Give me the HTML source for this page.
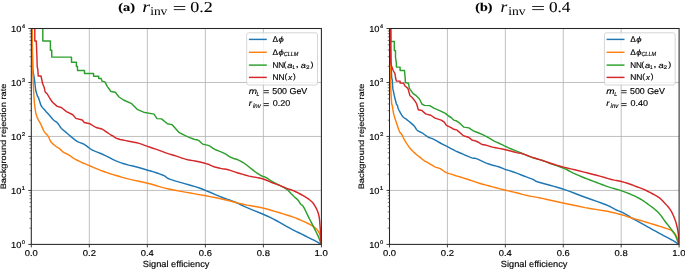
<!DOCTYPE html><html><head><meta charset="utf-8"><style>html,body{margin:0;padding:0;background:#fff;overflow:hidden}svg{display:block;will-change:transform}text{text-rendering:geometricPrecision;stroke:currentColor;stroke-width:0.15px}</style></head><body>
<svg width="685" height="269" viewBox="0 0 685 269">
<rect width="685" height="269" fill="#fff"/>
<defs>
<clipPath id="c0"><rect x="31.3" y="28.5" width="290.1" height="215.9"/></clipPath>
<clipPath id="c1"><rect x="389.5" y="28.5" width="289.6" height="215.9"/></clipPath>
</defs>
<text transform="translate(118.25 11.42) scale(1.198 1)" font-family="Liberation Serif" font-size="11.98" font-weight="bold" fill="#000">(a)</text>
<text transform="translate(142.20 12.00) scale(1.237 1)" font-family="Liberation Serif" font-size="16.17" font-style="italic" fill="#000" style="stroke:none">r</text>
<text transform="translate(150.13 14.58) scale(1.130 1)" font-family="Liberation Serif" font-size="11.94" fill="#000" style="stroke:none">inv</text>
<path d="M173.8 6.5H185.3M173.8 9.6H185.3" stroke="#000" stroke-width="0.85"/>
<text transform="translate(190.18 11.87) scale(1.189 1)" font-family="Liberation Serif" font-size="15.15" fill="#000" style="stroke-width:0.08px">0.2</text>
<text transform="translate(475.37 11.42) scale(1.170 1)" font-family="Liberation Serif" font-size="11.98" font-weight="bold" fill="#000">(b)</text>
<text transform="translate(500.40 12.00) scale(1.078 1)" font-family="Liberation Serif" font-size="16.17" font-style="italic" fill="#000" style="stroke:none">r</text>
<text transform="translate(508.23 14.58) scale(1.137 1)" font-family="Liberation Serif" font-size="11.94" fill="#000" style="stroke:none">inv</text>
<path d="M532.2 6.5H543.9M532.2 9.6H543.9" stroke="#000" stroke-width="0.85"/>
<text transform="translate(548.91 11.87) scale(1.138 1)" font-family="Liberation Serif" font-size="15.15" fill="#000" style="stroke-width:0.08px">0.4</text>
<path d="M89.32 28.5V244.4M147.34 28.5V244.4M205.36 28.5V244.4M263.38 28.5V244.4M31.3 190.43H321.4M31.3 136.45H321.4M31.3 82.47H321.4" stroke="#b0b0b0" stroke-width="0.8" fill="none"/>
<g clip-path="url(#c0)" fill="none" stroke-width="1.45" stroke-linejoin="round" stroke-linecap="butt">
<polyline points="32.2,28.5 32.4,54 32.7,68 33.4,73.5 34.25,77.8 34.8,82.5 35.8,90.8 37.4,96 38.4,97.6 41,105.4 41.93,106.88 42.97,108.16 44.08,109.36 45.2,110.6 46.37,111.92 47.59,113.26 48.79,114.57 49.9,115.8 50.87,116.95 51.74,118.04 52.6,119.06 53.5,120 54.48,120.78 55.49,121.43 56.5,122.12 57.5,123 58.45,124.19 59.39,125.58 60.33,127 61.3,128.25 62.3,129.26 63.31,130.12 64.37,130.97 65.5,131.9 66.7,132.96 67.97,134.07 69.3,135.23 70.7,136.4 72.18,137.64 73.72,138.94 75.33,140.19 77,141.3 78.75,142.15 80.57,142.83 82.42,143.52 84.25,144.4 86.13,145.63 88.05,147.07 89.88,148.48 91.5,149.6 92.72,150.29 93.65,150.69 94.63,151.06 96,151.6 97.88,152.37 100.08,153.24 102.47,154.22 104.9,155.3 107.39,156.55 110,157.95 112.66,159.35 115.3,160.6 117.89,161.66 120.46,162.6 123.07,163.47 125.8,164.3 128.72,165.09 131.79,165.82 134.83,166.53 137.7,167.25 140.36,168 142.9,168.77 145.31,169.51 147.6,170.2 149.69,170.79 151.61,171.32 153.49,171.86 155.5,172.5 157.75,173.27 160.12,174.12 162.44,175.02 164.5,175.9 165.73,176.67 166.41,177.39 167.61,178.24 170.4,179.4 175.78,181.08 182.95,183.14 190.24,185.2 196,186.9 199.39,188.01 201.43,188.76 203.23,189.5 205.9,190.6 209.99,192.28 214.82,194.3 219.66,196.32 223.8,198 226.96,199.17 229.56,200.05 231.88,200.83 234.2,201.7 236.65,202.77 239.05,203.92 241.25,205.01 243.1,205.9 244.15,206.4 244.62,206.64 245.33,206.95 247.1,207.7 250.46,209.07 254.87,210.84 259.54,212.74 263.7,214.5 267.09,216.02 270.14,217.44 273.09,218.9 276.2,220.5 279.56,222.35 283.03,224.35 286.49,226.35 289.8,228.2 292.91,229.82 295.9,231.31 298.84,232.74 301.8,234.2 304.9,235.74 308.08,237.31 311.11,238.83 313.8,240.2 316.19,241.47 318.35,242.67 320.14,243.69 321.4,244.4" stroke="#1f77b4"/>
<polyline points="32.2,28.5 32.4,54 32.7,70 33.4,86 33.53,88.91 33.64,91.35 33.75,93.61 33.9,96 34.08,98.62 34.29,101.3 34.52,103.93 34.8,106.4 35.12,108.7 35.47,110.9 35.87,112.93 36.3,114.75 36.78,116.32 37.31,117.67 37.86,118.88 38.4,120 38.92,120.99 39.45,121.84 39.98,122.66 40.5,123.6 41.02,124.7 41.55,125.89 42.08,127.1 42.6,128.25 43.09,129.33 43.56,130.37 44.07,131.38 44.7,132.4 45.52,133.38 46.47,134.32 47.44,135.31 48.3,136.4 48.96,137.67 49.5,139.06 50.09,140.47 50.9,141.8 52.06,143.09 53.45,144.36 54.87,145.52 56.1,146.5 57.06,147.17 57.88,147.62 58.66,148.03 59.5,148.6 60.41,149.42 61.34,150.37 62.32,151.34 63.4,152.2 64.61,152.9 65.92,153.5 67.27,154.1 68.6,154.8 69.85,155.63 71.07,156.53 72.35,157.47 73.8,158.4 75.45,159.32 77.25,160.25 79.15,161.18 81.1,162.1 83.14,163.02 85.29,163.93 87.44,164.83 89.5,165.7 91.44,166.54 93.31,167.34 95.15,168.13 97,168.9 98.8,169.63 100.54,170.33 102.39,171.04 104.5,171.8 106.87,172.62 109.44,173.47 112.23,174.37 115.3,175.3 118.68,176.29 122.34,177.33 126.2,178.38 130.2,179.4 134.42,180.36 138.87,181.28 143.33,182.21 147.6,183.2 151.67,184.3 155.64,185.47 159.44,186.61 163,187.6 166.03,188.35 168.66,188.94 171.43,189.51 174.9,190.2 179.56,191.09 185.01,192.09 190.43,193.08 195,193.9 198.21,194.46 200.59,194.85 202.9,195.24 205.9,195.8 210.02,196.61 214.79,197.58 219.58,198.58 223.8,199.5 227.21,200.31 230.16,201.07 232.9,201.79 235.7,202.5 238.46,203.17 241.11,203.79 243.9,204.42 247.1,205.1 250.9,205.8 255.12,206.52 259.48,207.31 263.7,208.2 267.78,209.25 271.84,210.43 275.8,211.64 279.6,212.8 283.24,213.9 286.75,214.97 290.09,216.03 293.2,217.1 296.05,218.18 298.67,219.26 301.13,220.33 303.5,221.4 305.83,222.45 308.07,223.5 310.15,224.55 312,225.6 313.6,226.67 314.98,227.74 316.17,228.82 317.2,229.9 318.05,230.96 318.72,232 319.25,233.07 319.7,234.2 320.04,235.42 320.26,236.7 320.43,238.01 320.6,239.3 320.81,240.69 321.01,242.17 321.18,243.48 321.3,244.4" stroke="#ff7f0e"/>
<polyline points="42.8,28.5 42.8,41 50.4,41 50.4,50.2 51.75,50.2 51.75,57.1 71.5,57.1 71.5,62.3 76.4,62.3 76.4,66.5 77.5,66.5 77.5,70.4 84.5,70.4 84.5,73.5 93.6,73.5 93.6,76.3 98.7,76.3 98.7,78.4 101.2,78.4 102,81.1 104.9,81.9 107.2,86.3 110.9,91.5 115.3,92.3 119,97 123.5,100 131.7,103.7 137.7,109.7 143.6,112.2 154,114.1 157,118.6 161.5,118.9 167.4,123.8 171.9,124.6 179.3,132.7 185.3,135.7 187.38,136.59 189.74,137.56 192.06,138.47 194,139.2 195.42,139.6 196.52,139.79 197.48,139.98 198.5,140.4 199.57,141.2 200.61,142.23 201.69,143.27 202.9,144.1 204.29,144.58 205.81,144.85 207.37,145.12 208.9,145.6 210.31,146.37 211.66,147.31 213.11,148.32 214.8,149.3 216.87,150.23 219.21,151.16 221.59,152.11 223.8,153.1 225.78,154.21 227.64,155.39 229.44,156.53 231.2,157.5 232.92,158.19 234.59,158.69 236.24,159.18 237.9,159.8 239.64,160.64 241.43,161.61 243.12,162.59 244.6,163.5 245.76,164.29 246.7,165.02 247.56,165.74 248.5,166.5 249.56,167.34 250.66,168.21 251.76,169.08 252.8,169.9 253.73,170.63 254.58,171.31 255.46,171.98 256.5,172.7 257.78,173.53 259.22,174.42 260.67,175.28 262,176 263.09,176.46 264.06,176.75 265.04,177.06 266.2,177.6 267.56,178.45 269.04,179.49 270.65,180.61 272.4,181.7 274.39,182.76 276.57,183.83 278.76,184.89 280.75,185.9 282.51,186.83 284.13,187.7 285.63,188.57 287,189.5 288.22,190.53 289.3,191.63 290.28,192.71 291.2,193.7 292.04,194.55 292.79,195.31 293.52,196.04 294.3,196.8 295.19,197.58 296.13,198.35 297.06,199.15 297.9,200 298.61,200.95 299.24,201.97 299.85,202.98 300.5,203.9 301.17,204.52 301.84,204.95 302.59,205.58 303.5,206.8 304.62,208.85 305.91,211.49 307.27,214.35 308.6,217.1 309.92,219.72 311.26,222.36 312.57,224.95 313.8,227.4 314.94,229.65 316.01,231.76 317.03,233.82 318,235.9 318.99,238.22 319.96,240.68 320.81,242.87 321.4,244.4" stroke="#2ca02c"/>
<polyline points="34.8,28.5 34.8,41 36.3,41 36.9,56 37.2,66.5 37.9,70.1 38.2,76 41,76 42.6,83.5 44.1,87.2 45.2,91.9 47.3,94 49.4,97.6 52.5,102.25 57.2,106.4 61.3,107.5 66.5,111.6 72.8,114.75 75.9,118.4 82.2,120 84.25,122.5 90,123.8 96,127.5 102,129 104.18,130.3 106.69,132.03 109.08,133.75 110.9,135 111.86,135.56 112.26,135.7 112.53,135.74 113.1,136 113.95,136.58 114.91,137.31 116.13,138.09 117.8,138.8 120.1,139.43 122.89,140.04 125.86,140.62 128.7,141.2 131.4,141.75 134.11,142.26 136.73,142.8 139.2,143.4 141.39,144.08 143.37,144.81 145.37,145.58 147.6,146.4 150.16,147.27 152.93,148.2 155.75,149.15 158.5,150.1 161.2,151.08 163.91,152.09 166.52,153.06 168.9,153.9 170.95,154.54 172.74,155.05 174.49,155.53 176.4,156.1 178.51,156.82 180.71,157.62 182.99,158.41 185.3,159.1 187.78,159.67 190.39,160.17 192.89,160.61 195,161 196.51,161.29 197.6,161.48 198.64,161.69 200,162 201.88,162.46 204.04,163.02 206.21,163.61 208.1,164.2 209.55,164.78 210.74,165.37 211.91,165.95 213.3,166.5 215.02,167.02 216.91,167.51 218.88,167.98 220.8,168.4 222.62,168.73 224.41,168.98 226.24,169.27 228.2,169.7 230.27,170.32 232.42,171.07 234.71,171.88 237.2,172.7 239.94,173.54 242.87,174.42 245.95,175.29 249.1,176.1 252.43,176.79 255.93,177.41 259.36,178.05 262.5,178.8 265.26,179.73 267.77,180.78 270.12,181.83 272.4,182.8 274.65,183.65 276.8,184.44 278.85,185.18 280.75,185.9 282.46,186.6 284.01,187.26 285.49,187.9 287,188.5 288.51,189.01 289.99,189.45 291.54,189.94 293.25,190.6 295.26,191.52 297.49,192.61 299.68,193.73 301.6,194.75 303.14,195.61 304.46,196.39 305.64,197.14 306.8,197.9 307.96,198.68 309.06,199.46 310.08,200.23 311,201 311.76,201.68 312.39,202.3 313,203.02 313.7,204 314.55,205.33 315.49,206.91 316.41,208.61 317.2,210.3 317.83,211.93 318.37,213.56 318.82,215.27 319.2,217.1 319.49,219.1 319.69,221.24 319.84,223.43 320,225.6 320.16,227.71 320.31,229.79 320.45,231.94 320.6,234.2 320.76,236.88 320.94,239.84 321.09,242.53 321.2,244.4" stroke="#d62728"/>
</g>
<rect x="31.3" y="28.5" width="290.1" height="215.9" fill="none" stroke="#262626" stroke-width="1.05"/>
<path d="M31.3 244.4v3M89.32 244.4v3M147.34 244.4v3M205.36 244.4v3M263.38 244.4v3M321.4 244.4v3M31.3 244.4h-3M31.3 190.43h-3M31.3 136.45h-3M31.3 82.47h-3M31.3 28.5h-3" stroke="#262626" stroke-width="0.9" fill="none"/>
<path d="M31.3 228.15h-1.8M31.3 218.65h-1.8M31.3 211.9h-1.8M31.3 206.67h-1.8M31.3 202.4h-1.8M31.3 198.79h-1.8M31.3 195.66h-1.8M31.3 192.89h-1.8M31.3 174.18h-1.8M31.3 164.67h-1.8M31.3 157.93h-1.8M31.3 152.7h-1.8M31.3 148.42h-1.8M31.3 144.81h-1.8M31.3 141.68h-1.8M31.3 138.92h-1.8M31.3 120.2h-1.8M31.3 110.7h-1.8M31.3 103.95h-1.8M31.3 98.72h-1.8M31.3 94.45h-1.8M31.3 90.84h-1.8M31.3 87.71h-1.8M31.3 84.94h-1.8M31.3 66.23h-1.8M31.3 56.72h-1.8M31.3 49.98h-1.8M31.3 44.75h-1.8M31.3 40.47h-1.8M31.3 36.86h-1.8M31.3 33.73h-1.8M31.3 30.97h-1.8" stroke="#262626" stroke-width="0.6" fill="none"/>
<text transform="translate(24.72 256.30) scale(1.100 1)" font-family="Liberation Sans" font-size="8.57" fill="#000">0.0</text>
<text transform="translate(82.74 256.30) scale(1.113 1)" font-family="Liberation Sans" font-size="8.57" fill="#000">0.2</text>
<text transform="translate(140.76 256.30) scale(1.096 1)" font-family="Liberation Sans" font-size="8.57" fill="#000">0.4</text>
<text transform="translate(198.78 256.30) scale(1.104 1)" font-family="Liberation Sans" font-size="8.57" fill="#000">0.6</text>
<text transform="translate(256.80 256.30) scale(1.104 1)" font-family="Liberation Sans" font-size="8.57" fill="#000">0.8</text>
<text transform="translate(314.47 256.30) scale(1.130 1)" font-family="Liberation Sans" font-size="8.57" fill="#000">1.0</text>
<text transform="translate(11.00 247.60) scale(1.067 1)" font-family="Liberation Sans" font-size="8.71" fill="#000">10</text>
<text transform="translate(21.77 244.30) scale(1.104 1)" font-family="Liberation Sans" font-size="5.29" fill="#000">0</text>
<text transform="translate(11.00 193.62) scale(1.067 1)" font-family="Liberation Sans" font-size="8.71" fill="#000">10</text>
<text transform="translate(21.52 190.33) scale(1.200 1)" font-family="Liberation Sans" font-size="5.36" fill="#000">1</text>
<text transform="translate(11.00 139.65) scale(1.067 1)" font-family="Liberation Sans" font-size="8.71" fill="#000">10</text>
<text transform="translate(21.69 136.35) scale(1.164 1)" font-family="Liberation Sans" font-size="5.29" fill="#000">2</text>
<text transform="translate(11.00 85.67) scale(1.067 1)" font-family="Liberation Sans" font-size="8.71" fill="#000">10</text>
<text transform="translate(21.76 82.38) scale(1.115 1)" font-family="Liberation Sans" font-size="5.29" fill="#000">3</text>
<text transform="translate(11.00 31.70) scale(1.067 1)" font-family="Liberation Sans" font-size="8.71" fill="#000">10</text>
<text transform="translate(21.89 28.40) scale(1.034 1)" font-family="Liberation Sans" font-size="5.36" fill="#000">4</text>
<text transform="translate(142.83 267.40) scale(1.031 1)" font-family="Liberation Sans" font-size="8.97" fill="#000">Signal efficiency</text>
<text transform="translate(5.90 189.34) rotate(-90) scale(1.182 1)" font-family="Liberation Sans" font-size="7.86" fill="#000">Background rejection rate</text>
<rect x="246.7" y="32.8" width="70.8" height="52.2" rx="2" ry="2" fill="#fff" fill-opacity="0.8" stroke="#cccccc" stroke-width="0.8"/>
<path d="M248.9 39.4H266.8" stroke="#1f77b4" stroke-width="1.45"/>
<path d="M248.9 52.3H266.8" stroke="#ff7f0e" stroke-width="1.45"/>
<path d="M248.9 65.1H266.8" stroke="#2ca02c" stroke-width="1.45"/>
<path d="M248.9 77.4H266.8" stroke="#d62728" stroke-width="1.45"/>
<text transform="translate(272.55 42.00) scale(1.012 1)" font-family="Liberation Sans" font-size="8.26" fill="#000">Δ</text>
<text transform="translate(278.52 42.13) scale(1.268 1)" font-family="Liberation Sans" font-size="7.49" font-style="italic" fill="#000">ϕ</text>
<text transform="translate(272.55 54.90) scale(1.030 1)" font-family="Liberation Sans" font-size="8.12" fill="#000">Δ</text>
<text transform="translate(278.52 55.13) scale(1.268 1)" font-family="Liberation Sans" font-size="7.49" font-style="italic" fill="#000">ϕ</text>
<text transform="translate(283.70 56.24) scale(0.931 1)" font-family="Liberation Sans" font-size="5.92" font-style="italic" fill="#000">CLLM</text>
<text transform="translate(272.45 67.70) scale(0.984 1)" font-family="Liberation Sans" font-size="8.26" fill="#000">NN</text>
<text transform="translate(283.58 67.01) scale(1.143 1)" font-family="Liberation Sans" font-size="7.59" fill="#000">(</text>
<text transform="translate(287.22 67.70) scale(1.155 1)" font-family="Liberation Sans" font-size="7.96" font-style="italic" fill="#000">a</text>
<text transform="translate(292.36 69.20) scale(0.881 1)" font-family="Liberation Sans" font-size="5.22" fill="#000">1</text>
<text transform="translate(295.52 67.38) scale(1.282 1)" font-family="Liberation Sans" font-size="9.36" fill="#000">,</text>
<text transform="translate(300.72 67.70) scale(1.155 1)" font-family="Liberation Sans" font-size="7.96" font-style="italic" fill="#000">a</text>
<text transform="translate(305.88 69.20) scale(1.239 1)" font-family="Liberation Sans" font-size="5.14" fill="#000">2</text>
<text transform="translate(310.55 67.01) scale(1.193 1)" font-family="Liberation Sans" font-size="7.59" fill="#000">)</text>
<text transform="translate(272.52 80.00) scale(1.021 1)" font-family="Liberation Sans" font-size="8.26" fill="#000">NN</text>
<text transform="translate(284.50 79.33) scale(1.109 1)" font-family="Liberation Sans" font-size="7.49" fill="#000">(</text>
<text transform="translate(288.21 80.00) scale(1.049 1)" font-family="Liberation Sans" font-size="7.36" font-style="italic" fill="#000">x</text>
<text transform="translate(292.96 79.33) scale(1.109 1)" font-family="Liberation Sans" font-size="7.49" fill="#000">)</text>
<text transform="translate(248.65 94.30) scale(1.174 1)" font-family="Liberation Sans" font-size="8.52" font-style="italic" fill="#000">m</text>
<text transform="translate(256.54 95.70) scale(0.984 1)" font-family="Liberation Sans" font-size="5.36" font-style="italic" fill="#000">L</text>
<path d="M263.6 90.6H268.9M263.6 92.75H268.9" stroke="#111" stroke-width="0.85"/>
<text transform="translate(272.25 94.30) scale(1.035 1)" font-family="Liberation Sans" font-size="8.57" fill="#000">500 GeV</text>
<text transform="translate(248.66 106.30) scale(1.131 1)" font-family="Liberation Sans" font-size="8.33" font-style="italic" fill="#000">r</text>
<text transform="translate(252.91 107.90) scale(0.942 1)" font-family="Liberation Sans" font-size="6.48" font-style="italic" fill="#000">inv</text>
<path d="M263.6 103.55H268.9M263.6 105.6H268.9" stroke="#111" stroke-width="0.85"/>
<text transform="translate(272.74 106.30) scale(1.066 1)" font-family="Liberation Sans" font-size="8.43" fill="#000">0.20</text>
<path d="M447.42 28.5V244.4M505.34 28.5V244.4M563.26 28.5V244.4M621.18 28.5V244.4M389.5 190.43H679.1M389.5 136.45H679.1M389.5 82.47H679.1" stroke="#b0b0b0" stroke-width="0.8" fill="none"/>
<g clip-path="url(#c1)" fill="none" stroke-width="1.45" stroke-linejoin="round" stroke-linecap="butt">
<polyline points="390.4,28.5 390.8,50 391.2,66.6 391.7,78 392.25,80 392.8,88.4 394.3,95.7 396.4,104 396.75,104.82 397.02,105.09 397.26,105.22 397.5,105.6 397.68,106.27 397.81,107.04 398.03,107.99 398.5,109.2 399.33,110.86 400.41,112.88 401.58,114.88 402.7,116.5 403.66,117.5 404.56,118.11 405.55,118.7 406.8,119.6 408.5,120.99 410.51,122.67 412.49,124.38 414.1,125.9 415.13,127.17 415.8,128.32 416.41,129.36 417.25,130.3 418.42,131.09 419.75,131.74 421.14,132.37 422.5,133.1 423.78,133.99 425.04,134.96 426.33,135.93 427.7,136.8 429.15,137.49 430.67,138.07 432.25,138.67 433.9,139.4 435.67,140.34 437.54,141.41 439.42,142.5 441.2,143.5 442.84,144.36 444.4,145.14 445.93,145.91 447.5,146.7 449.22,147.59 451.02,148.53 452.69,149.41 454,150.1 454.7,150.49 454.97,150.68 455.26,150.85 456,151.2 457.33,151.78 459.01,152.48 460.91,153.27 462.9,154.1 465.11,155.06 467.56,156.14 469.92,157.15 471.9,157.9 473.15,158.19 473.92,158.16 474.78,158.18 476.3,158.6 478.78,159.64 481.88,161.06 485.15,162.55 488.2,163.8 490.99,164.71 493.71,165.46 496.27,166.12 498.6,166.8 500.57,167.5 502.26,168.18 503.87,168.85 505.6,169.5 507.45,170.1 509.34,170.67 511.33,171.27 513.5,172 515.96,172.91 518.63,173.94 521.34,175.01 523.9,176 526.36,176.92 528.77,177.81 531.01,178.64 532.9,179.4 534.04,180 534.62,180.47 535.44,180.98 537.3,181.7 540.73,182.73 545.21,183.97 549.91,185.25 554,186.4 557.03,187.27 559.52,187.99 562.1,188.79 565.4,189.9 569.66,191.44 574.52,193.26 579.72,195.23 585,197.2 590.69,199.25 596.81,201.41 602.59,203.5 607.3,205.3 610.59,206.77 612.91,208.02 614.69,209.08 616.4,210 617.95,210.68 619.18,211.12 620.37,211.56 621.8,212.2 623.71,213.19 625.9,214.39 627.99,215.57 629.6,216.5 630.37,216.98 630.58,217.18 630.85,217.42 631.8,218 633.66,219.05 636.07,220.39 638.77,221.89 641.5,223.4 644.25,224.93 647.14,226.54 650.08,228.18 653,229.8 655.97,231.44 659,233.11 661.91,234.7 664.5,236.1 666.67,237.23 668.53,238.17 670.25,239.05 672,240 673.95,241.17 675.97,242.44 677.75,243.6 679,244.4" stroke="#1f77b4"/>
<polyline points="390.2,28.5 390.4,78 391,93.6 391.7,104 392.25,105.6 392.54,107.3 392.9,109.58 393.32,112.06 393.8,114.4 394.36,116.51 395,118.57 395.69,120.64 396.4,122.75 397.16,125.07 397.98,127.53 398.78,129.82 399.5,131.6 400.08,132.63 400.58,133.13 401.06,133.51 401.6,134.2 402.2,135.32 402.83,136.64 403.5,138.04 404.2,139.4 404.95,140.71 405.74,142.03 406.56,143.34 407.4,144.6 408.26,145.82 409.14,147.02 410.05,148.18 411,149.3 412.03,150.4 413.13,151.48 414.21,152.49 415.2,153.4 416.08,154.18 416.88,154.86 417.62,155.46 418.3,156 418.87,156.45 419.35,156.8 419.83,157.15 420.4,157.6 421.03,158.16 421.69,158.77 422.48,159.46 423.5,160.2 424.86,161.04 426.49,161.97 428.18,162.91 429.75,163.8 431.13,164.64 432.44,165.46 433.71,166.23 435,166.9 436.28,167.39 437.54,167.74 438.83,168.13 440.2,168.7 441.7,169.6 443.3,170.72 444.9,171.82 446.4,172.7 447.79,173.25 449.11,173.6 450.38,173.88 451.6,174.2 452.63,174.56 453.51,174.91 454.53,175.31 456,175.8 458.01,176.4 460.39,177.07 463.05,177.83 465.9,178.7 469,179.73 472.38,180.9 475.87,182.09 479.3,183.2 482.66,184.19 486.03,185.12 489.39,186.02 492.7,186.9 496.01,187.77 499.31,188.62 502.53,189.43 505.6,190.2 508.44,190.89 511.11,191.52 513.75,192.14 516.5,192.8 519.4,193.54 522.39,194.33 525.4,195.1 528.4,195.8 531.33,196.39 534.24,196.9 537.2,197.41 540.3,198 543.19,198.61 545.96,199.23 549.32,199.98 554,201 560.74,202.46 568.96,204.26 577.46,206.07 585,207.6 591.37,208.73 597.18,209.64 602.48,210.46 607.3,211.3 611.58,212.2 615.32,213.08 618.67,213.95 621.8,214.8 624.62,215.63 627.1,216.44 629.43,217.24 631.8,218 634.2,218.71 636.56,219.39 638.96,220.07 641.5,220.8 644.3,221.62 647.28,222.49 650.24,223.37 653,224.2 655.52,224.97 657.89,225.72 660.12,226.43 662.2,227.1 664.17,227.73 666.01,228.33 667.67,228.88 669.1,229.4 670.23,229.83 671.1,230.18 671.85,230.56 672.6,231.1 673.4,231.85 674.16,232.74 674.87,233.69 675.5,234.6 676.02,235.44 676.46,236.27 676.85,237.11 677.2,238 677.53,239 677.81,240.06 678.07,241.1 678.3,242 678.52,242.77 678.72,243.45 678.88,244.01 679,244.4" stroke="#ff7f0e"/>
<polyline points="390.7,28.5 390.7,41.4 394.3,41.4 394.3,50.5 395.5,50.5 395.5,57.2 396.4,63.5 396.4,67.1 400.1,67.1 400.1,70.5 404.5,70.5 405.3,79.6 405.3,82.5 408.4,83.2 409.4,88.4 413.1,93.6 416.2,95.7 419.3,98.8 421.9,104 424.5,105.4 429.75,105.6 433.9,108.2 440.2,110.8 445.4,113.4 448.5,116 451.1,117.5 453.7,120.1 456,120.7 460,123.4 463.7,127.1 468.9,127.9 473.3,130.8 474.96,131.53 476.86,132.25 478.86,133 480.8,133.8 482.71,134.69 484.64,135.64 486.51,136.59 488.2,137.5 489.65,138.36 490.94,139.19 492.15,139.97 493.4,140.7 494.65,141.31 495.86,141.82 497.14,142.35 498.6,143 500.25,143.81 502.03,144.71 503.97,145.69 506.1,146.7 508.57,147.81 511.31,149 514.04,150.17 516.5,151.2 518.56,152.04 520.38,152.74 522.11,153.41 523.9,154.1 525.66,154.83 527.37,155.55 529.21,156.3 531.4,157.1 534.14,157.99 537.27,158.93 540.45,159.89 543.3,160.8 545.62,161.63 547.65,162.42 549.67,163.22 552,164.1 554.82,165.08 557.94,166.12 561.06,167.21 563.9,168.3 566.27,169.39 568.35,170.49 570.43,171.62 572.8,172.8 575.56,174.07 578.56,175.4 581.65,176.73 584.7,178 587.68,179.18 590.65,180.3 593.63,181.4 596.6,182.5 599.56,183.62 602.52,184.75 605.49,185.85 608.5,186.9 611.6,187.86 614.76,188.76 617.89,189.66 620.9,190.6 623.79,191.6 626.59,192.64 629.3,193.7 631.9,194.8 634.4,195.92 636.8,197.07 639.1,198.26 641.3,199.5 643.4,200.84 645.4,202.25 647.3,203.66 649.1,205 650.8,206.23 652.39,207.4 653.89,208.54 655.3,209.7 656.58,210.84 657.75,211.94 658.87,213.11 660,214.4 661.16,215.9 662.31,217.54 663.46,219.21 664.6,220.8 665.76,222.3 666.92,223.76 668.05,225.17 669.1,226.5 670.06,227.73 670.95,228.87 671.79,229.98 672.6,231.1 673.38,232.22 674.12,233.32 674.83,234.47 675.5,235.7 676.14,237.13 676.76,238.71 677.32,240.23 677.8,241.5 678.21,242.5 678.54,243.31 678.81,243.95 679,244.4" stroke="#2ca02c"/>
<polyline points="390.7,28.5 390.7,62.4 391.7,66.6 393.3,70.75 394.9,73.4 395.6,78 396.4,81.1 400.1,81.1 400.1,83 403.7,83.2 404.75,85.8 407.9,88.4 410,95.7 412,97.3 415.2,101.4 416.7,104 418.3,109.7 421.9,110.5 425.6,113.9 430.8,115.25 435,118.1 441.2,120.1 444.3,122.2 446.4,125.4 450.6,127.4 454,129.3 457,130.1 462.9,135.3 464.46,136.05 466.08,136.57 467.61,137 468.9,137.5 469.83,138.13 470.5,138.81 471.12,139.46 471.9,140 472.86,140.35 473.91,140.58 475.05,140.83 476.3,141.25 477.76,141.99 479.39,142.92 480.98,143.83 482.3,144.5 483.15,144.78 483.68,144.82 484.27,144.83 485.25,145 486.67,145.4 488.35,145.92 490.35,146.5 492.7,147.1 495.59,147.71 498.93,148.35 502.39,149.02 505.6,149.7 508.58,150.45 511.48,151.24 514.17,151.99 516.5,152.6 518.28,152.95 519.62,153.12 520.91,153.31 522.5,153.7 524.45,154.38 526.58,155.24 528.9,156.17 531.4,157.1 534.24,158.02 537.36,158.98 540.48,159.92 543.3,160.8 545.63,161.57 547.67,162.27 549.7,162.96 552,163.7 554.59,164.51 557.34,165.35 560.29,166.22 563.5,167.1 567,167.99 570.76,168.88 574.71,169.81 578.8,170.8 583.14,171.88 587.73,173.02 592.3,174.18 596.6,175.3 600.64,176.42 604.54,177.56 608.19,178.61 611.5,179.5 614.32,180.12 616.75,180.54 619.05,180.95 621.5,181.5 624.36,182.33 627.42,183.31 630.24,184.27 632.4,185 633.45,185.36 633.73,185.49 633.97,185.62 634.9,186 636.83,186.72 639.34,187.64 642.02,188.67 644.5,189.7 646.7,190.74 648.83,191.84 650.87,192.94 652.8,194 654.61,194.96 656.31,195.86 657.93,196.8 659.5,197.9 661.04,199.22 662.52,200.69 663.94,202.21 665.3,203.7 666.61,205.13 667.87,206.56 669.05,207.98 670.1,209.4 670.99,210.8 671.76,212.19 672.44,213.59 673.1,215 673.74,216.44 674.34,217.89 674.89,219.35 675.4,220.8 675.86,222.23 676.28,223.65 676.65,225.07 677,226.5 677.32,227.94 677.61,229.39 677.86,230.84 678.1,232.3 678.31,233.76 678.5,235.23 678.66,236.7 678.8,238.2 678.91,239.87 678.99,241.67 679.06,243.28 679.1,244.4" stroke="#d62728"/>
</g>
<rect x="389.5" y="28.5" width="289.6" height="215.9" fill="none" stroke="#262626" stroke-width="1.05"/>
<path d="M389.5 244.4v3M447.42 244.4v3M505.34 244.4v3M563.26 244.4v3M621.18 244.4v3M679.1 244.4v3M389.5 244.4h-3M389.5 190.43h-3M389.5 136.45h-3M389.5 82.47h-3M389.5 28.5h-3" stroke="#262626" stroke-width="0.9" fill="none"/>
<path d="M389.5 228.15h-1.8M389.5 218.65h-1.8M389.5 211.9h-1.8M389.5 206.67h-1.8M389.5 202.4h-1.8M389.5 198.79h-1.8M389.5 195.66h-1.8M389.5 192.89h-1.8M389.5 174.18h-1.8M389.5 164.67h-1.8M389.5 157.93h-1.8M389.5 152.7h-1.8M389.5 148.42h-1.8M389.5 144.81h-1.8M389.5 141.68h-1.8M389.5 138.92h-1.8M389.5 120.2h-1.8M389.5 110.7h-1.8M389.5 103.95h-1.8M389.5 98.72h-1.8M389.5 94.45h-1.8M389.5 90.84h-1.8M389.5 87.71h-1.8M389.5 84.94h-1.8M389.5 66.23h-1.8M389.5 56.72h-1.8M389.5 49.98h-1.8M389.5 44.75h-1.8M389.5 40.47h-1.8M389.5 36.86h-1.8M389.5 33.73h-1.8M389.5 30.97h-1.8" stroke="#262626" stroke-width="0.6" fill="none"/>
<text transform="translate(382.92 256.30) scale(1.100 1)" font-family="Liberation Sans" font-size="8.57" fill="#000">0.0</text>
<text transform="translate(440.84 256.30) scale(1.113 1)" font-family="Liberation Sans" font-size="8.57" fill="#000">0.2</text>
<text transform="translate(498.76 256.30) scale(1.096 1)" font-family="Liberation Sans" font-size="8.57" fill="#000">0.4</text>
<text transform="translate(556.68 256.30) scale(1.104 1)" font-family="Liberation Sans" font-size="8.57" fill="#000">0.6</text>
<text transform="translate(614.60 256.30) scale(1.104 1)" font-family="Liberation Sans" font-size="8.57" fill="#000">0.8</text>
<text transform="translate(672.17 256.30) scale(1.130 1)" font-family="Liberation Sans" font-size="8.57" fill="#000">1.0</text>
<text transform="translate(369.20 247.60) scale(1.067 1)" font-family="Liberation Sans" font-size="8.71" fill="#000">10</text>
<text transform="translate(379.97 244.30) scale(1.104 1)" font-family="Liberation Sans" font-size="5.29" fill="#000">0</text>
<text transform="translate(369.20 193.62) scale(1.067 1)" font-family="Liberation Sans" font-size="8.71" fill="#000">10</text>
<text transform="translate(379.72 190.33) scale(1.200 1)" font-family="Liberation Sans" font-size="5.36" fill="#000">1</text>
<text transform="translate(369.20 139.65) scale(1.067 1)" font-family="Liberation Sans" font-size="8.71" fill="#000">10</text>
<text transform="translate(379.89 136.35) scale(1.164 1)" font-family="Liberation Sans" font-size="5.29" fill="#000">2</text>
<text transform="translate(369.20 85.67) scale(1.067 1)" font-family="Liberation Sans" font-size="8.71" fill="#000">10</text>
<text transform="translate(379.96 82.38) scale(1.115 1)" font-family="Liberation Sans" font-size="5.29" fill="#000">3</text>
<text transform="translate(369.20 31.70) scale(1.067 1)" font-family="Liberation Sans" font-size="8.71" fill="#000">10</text>
<text transform="translate(380.09 28.40) scale(1.034 1)" font-family="Liberation Sans" font-size="5.36" fill="#000">4</text>
<text transform="translate(500.78 267.40) scale(1.031 1)" font-family="Liberation Sans" font-size="8.97" fill="#000">Signal efficiency</text>
<text transform="translate(364.10 189.34) rotate(-90) scale(1.182 1)" font-family="Liberation Sans" font-size="7.86" fill="#000">Background rejection rate</text>
<rect x="604.4" y="32.8" width="70.8" height="52.2" rx="2" ry="2" fill="#fff" fill-opacity="0.8" stroke="#cccccc" stroke-width="0.8"/>
<path d="M606.6 39.4H624.5" stroke="#1f77b4" stroke-width="1.45"/>
<path d="M606.6 52.3H624.5" stroke="#ff7f0e" stroke-width="1.45"/>
<path d="M606.6 65.1H624.5" stroke="#2ca02c" stroke-width="1.45"/>
<path d="M606.6 77.4H624.5" stroke="#d62728" stroke-width="1.45"/>
<text transform="translate(630.25 42.00) scale(1.012 1)" font-family="Liberation Sans" font-size="8.26" fill="#000">Δ</text>
<text transform="translate(636.22 42.13) scale(1.268 1)" font-family="Liberation Sans" font-size="7.49" font-style="italic" fill="#000">ϕ</text>
<text transform="translate(630.25 54.90) scale(1.030 1)" font-family="Liberation Sans" font-size="8.12" fill="#000">Δ</text>
<text transform="translate(636.22 55.13) scale(1.268 1)" font-family="Liberation Sans" font-size="7.49" font-style="italic" fill="#000">ϕ</text>
<text transform="translate(641.40 56.24) scale(0.931 1)" font-family="Liberation Sans" font-size="5.92" font-style="italic" fill="#000">CLLM</text>
<text transform="translate(630.15 67.70) scale(0.984 1)" font-family="Liberation Sans" font-size="8.26" fill="#000">NN</text>
<text transform="translate(641.28 67.01) scale(1.143 1)" font-family="Liberation Sans" font-size="7.59" fill="#000">(</text>
<text transform="translate(644.92 67.70) scale(1.155 1)" font-family="Liberation Sans" font-size="7.96" font-style="italic" fill="#000">a</text>
<text transform="translate(650.06 69.20) scale(0.881 1)" font-family="Liberation Sans" font-size="5.22" fill="#000">1</text>
<text transform="translate(653.22 67.38) scale(1.282 1)" font-family="Liberation Sans" font-size="9.36" fill="#000">,</text>
<text transform="translate(658.42 67.70) scale(1.155 1)" font-family="Liberation Sans" font-size="7.96" font-style="italic" fill="#000">a</text>
<text transform="translate(663.58 69.20) scale(1.239 1)" font-family="Liberation Sans" font-size="5.14" fill="#000">2</text>
<text transform="translate(668.25 67.01) scale(1.193 1)" font-family="Liberation Sans" font-size="7.59" fill="#000">)</text>
<text transform="translate(630.23 80.00) scale(1.021 1)" font-family="Liberation Sans" font-size="8.26" fill="#000">NN</text>
<text transform="translate(642.20 79.33) scale(1.109 1)" font-family="Liberation Sans" font-size="7.49" fill="#000">(</text>
<text transform="translate(645.91 80.00) scale(1.049 1)" font-family="Liberation Sans" font-size="7.36" font-style="italic" fill="#000">x</text>
<text transform="translate(650.66 79.33) scale(1.109 1)" font-family="Liberation Sans" font-size="7.49" fill="#000">)</text>
<text transform="translate(606.35 94.30) scale(1.174 1)" font-family="Liberation Sans" font-size="8.52" font-style="italic" fill="#000">m</text>
<text transform="translate(614.24 95.70) scale(0.984 1)" font-family="Liberation Sans" font-size="5.36" font-style="italic" fill="#000">L</text>
<path d="M621.3 90.6H626.6M621.3 92.75H626.6" stroke="#111" stroke-width="0.85"/>
<text transform="translate(629.95 94.30) scale(1.035 1)" font-family="Liberation Sans" font-size="8.57" fill="#000">500 GeV</text>
<text transform="translate(606.36 106.30) scale(1.131 1)" font-family="Liberation Sans" font-size="8.33" font-style="italic" fill="#000">r</text>
<text transform="translate(610.61 107.90) scale(0.942 1)" font-family="Liberation Sans" font-size="6.48" font-style="italic" fill="#000">inv</text>
<path d="M621.3 103.55H626.6M621.3 105.6H626.6" stroke="#111" stroke-width="0.85"/>
<text transform="translate(630.44 106.30) scale(1.066 1)" font-family="Liberation Sans" font-size="8.43" fill="#000">0.40</text>
</svg></body></html>
